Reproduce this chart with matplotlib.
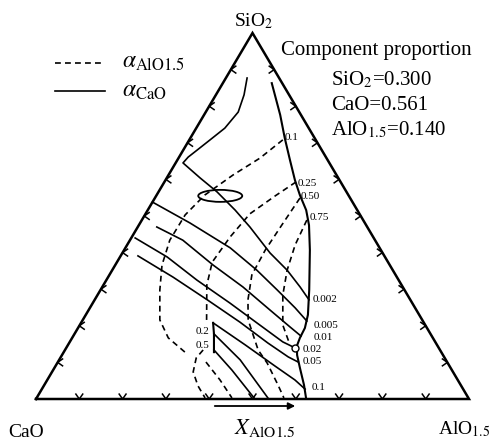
import matplotlib
matplotlib.use('Agg')
import matplotlib.pyplot as plt
from matplotlib.lines import Line2D
from matplotlib.patches import Ellipse
import numpy as np

plt.rcParams['font.family'] = ['Liberation Serif', 'DejaVu Serif']
plt.rcParams['mathtext.fontset'] = 'stix'

W, H = 490, 445

# all curves as (X_AlO1.5, X_SiO2) compositions
boundary = [(0.113, 0.863), (0.176, 0.776), (0.218, 0.713), (0.260, 0.653),
            (0.299, 0.598), (0.331, 0.557), (0.366, 0.516), (0.393, 0.475),
            (0.429, 0.407), (0.482, 0.298), (0.513, 0.230), (0.524, 0.194),
            (0.526, 0.167), (0.530, 0.145), (0.543, 0.120), (0.567, 0.085),
            (0.600, 0.038), (0.624, 0.0)]
boundary_low = [(0.305, 0.208), (0.322, 0.178), (0.347, 0.128)]

# alpha_CaO iso-lines
cao_0002 = [(0.049, 0.877), (0.065, 0.831), (0.075, 0.784), (0.066, 0.740),
            (0.048, 0.708), (0.032, 0.680), (0.021, 0.661), (0.017, 0.645),
            (0.077, 0.604), (0.135, 0.566), (0.202, 0.516), (0.259, 0.470),
            (0.341, 0.399), (0.404, 0.352), (0.457, 0.306), (0.495, 0.271)]
cao_0005 = [(0.0, 0.538), (0.115, 0.481), (0.242, 0.413), (0.334, 0.352),
            (0.408, 0.298), (0.474, 0.249), (0.519, 0.213)]
cao_001 = [(0.044, 0.470), (0.122, 0.434), (0.226, 0.366), (0.325, 0.306),
           (0.419, 0.243), (0.488, 0.197), (0.526, 0.172)]
cao_002 = [(0.009, 0.440), (0.109, 0.388), (0.209, 0.325), (0.317, 0.262),
           (0.416, 0.202), (0.492, 0.156), (0.530, 0.139)]
cao_005 = [(0.040, 0.391), (0.150, 0.333), (0.260, 0.271), (0.366, 0.210),
           (0.459, 0.153), (0.525, 0.115), (0.555, 0.101)]
cao_01 = [(0.305, 0.208), (0.409, 0.148), (0.507, 0.090), (0.572, 0.052),
          (0.608, 0.027)]
cao_02 = [(0.322, 0.178), (0.418, 0.107), (0.534, 0.003)]
cao_05 = [(0.344, 0.134), (0.413, 0.079), (0.502, 0.003)]
cao_lines = [cao_0002, cao_0005, cao_001, cao_002, cao_005, cao_01,
             cao_02, cao_05]

# alpha_AlO1.5 iso-lines
al_01 = [(0.216, 0.708), (0.188, 0.658), (0.149, 0.612), (0.111, 0.557),
         (0.093, 0.503), (0.092, 0.434), (0.108, 0.366), (0.137, 0.298),
         (0.178, 0.216), (0.222, 0.167), (0.280, 0.128)]
al_025 = [(0.304, 0.593), (0.275, 0.555), (0.241, 0.506), (0.227, 0.443),
          (0.220, 0.374), (0.239, 0.311), (0.286, 0.216)]
al_050 = [(0.335, 0.549), (0.330, 0.475), (0.326, 0.407), (0.329, 0.339),
          (0.354, 0.271), (0.382, 0.216), (0.446, 0.134), (0.485, 0.098),
          (0.540, 0.038), (0.571, 0.003)]
al_075 = [(0.381, 0.489), (0.388, 0.421), (0.404, 0.352), (0.428, 0.284),
          (0.469, 0.202), (0.506, 0.156)]
al_low_arc = [(0.319, 0.134), (0.314, 0.112), (0.326, 0.074), (0.356, 0.036),
              (0.389, 0.003)]
al_low_diag = [(0.342, 0.101), (0.399, 0.052), (0.451, 0.003)]
al_lines = [al_01, al_025, al_050, al_075, al_low_arc, al_low_diag]

ellipse_at = (0.148, 0.555)
ring_at = (0.528, 0.139)


def tern(pts):
    a = np.asarray(pts, float)
    return a[:, 0] + 0.5 * a[:, 1], a[:, 1]


def ftext(px, py, s, **kw):
    fig.text(px / W, 1 - py / H, s, **kw)


fig = plt.figure(figsize=(W / 100, H / 100), dpi=100)
ax = fig.add_axes([36 / W, 1 - 399 / H, 433 / W, 366 / H])
ax.set_xlim(0, 1)
ax.set_ylim(0, 1)
ax.axis('off')

# triangle frame
ax.plot([0, 1, 0.5, 0], [0, 0, 1, 0], color='k', lw=1.8, clip_on=False,
        solid_joinstyle='miter')

# chevron ticks at tenths
sx, sy = 1 / 433, 1 / 366
L, ang = 6.0, np.radians(35)
for k in range(1, 10):
    f = k / 10
    for (x0, y0), arms in [
        ((f, 0), [(np.sin(ang), np.cos(ang)), (-np.sin(ang), np.cos(ang))]),
        ((0.5 * f, f), [(np.cos(ang), np.sin(ang)), (np.cos(ang), -np.sin(ang))]),
        ((1 - 0.5 * f, f), [(-np.cos(ang), np.sin(ang)), (-np.cos(ang), -np.sin(ang))]),
    ]:
        (ax1, ay1), (ax2, ay2) = arms
        ax.plot([x0 + L * ax1 * sx, x0, x0 + L * ax2 * sx],
                [y0 + L * ay1 * sy, y0, y0 + L * ay2 * sy],
                color='k', lw=1.1, clip_on=False)

for line in (boundary, boundary_low):
    bx, by = tern(line)
    ax.plot(bx, by, color='k', lw=1.5)
for line in cao_lines:
    x, y = tern(line)
    ax.plot(x, y, color='k', lw=1.2)
for line in al_lines:
    x, y = tern(line)
    ax.plot(x, y, color='k', lw=1.2, linestyle=(0, (3.5, 2.5)))

ex, ey = tern([ellipse_at])
ax.add_patch(Ellipse((ex[0], ey[0]), 44 / 433, 12 / 366, fill=False,
                     color='k', lw=1.3))
rx, ry = tern([ring_at])
ax.plot(rx, ry, marker='o', ms=5, mfc='white', mec='k', mew=1.0)

# vertex labels
ftext(254, 26, 'SiO$_2$', ha='center', va='baseline', fontsize=14)
ftext(8, 437, 'CaO', ha='left', va='baseline', fontsize=14)
ftext(438, 434, 'AlO$_{1.5}$', ha='left', va='baseline', fontsize=14)

# composition box
ftext(281, 55, 'Component proportion', ha='left', va='baseline', fontsize=15)
ftext(331, 85, 'SiO$_2$=0.300', ha='left', va='baseline', fontsize=15)
ftext(331, 110, 'CaO=0.561', ha='left', va='baseline', fontsize=15)
ftext(331, 135, 'AlO$_{1.5}$=0.140', ha='left', va='baseline', fontsize=15)

# legend
fig.add_artist(Line2D([55 / W, 102 / W], [1 - 63 / H] * 2, color='k', lw=1.2,
                      linestyle=(0, (3.5, 2.5))))
fig.add_artist(Line2D([55 / W, 105 / W], [1 - 91 / H] * 2, color='k', lw=1.2))
ftext(122, 68, r'$\alpha_{\mathrm{AlO1.5}}$', ha='left', va='baseline', fontsize=17)
ftext(122, 97, r'$\alpha_{\mathrm{CaO}}$', ha='left', va='baseline', fontsize=17)

# axis label with arrow
ftext(234, 434, r'$X_{\mathrm{AlO1.5}}$', ha='left', va='baseline', fontsize=16)
ax.annotate('', xy=(298, H - 406), xytext=(212, H - 406),
            xycoords='figure pixels', textcoords='figure pixels',
            arrowprops=dict(arrowstyle='-|>', color='k', lw=1.3,
                            mutation_scale=10))

# iso-line labels
labels = [(285, 137, '0.1'), (298, 183, '0.25'), (301, 197, '0.50'),
          (310, 218, '0.75'), (313, 300, '0.002'), (314, 326, '0.005'),
          (314, 338, '0.01'), (303, 350, '0.02'), (303, 362, '0.05'),
          (312, 387, '0.1'), (196, 332, '0.2'), (196, 345, '0.5')]
for px, py, s in labels:
    ftext(px, py, s, ha='left', va='center', fontsize=8)

fig.savefig('out.png', dpi=100)
